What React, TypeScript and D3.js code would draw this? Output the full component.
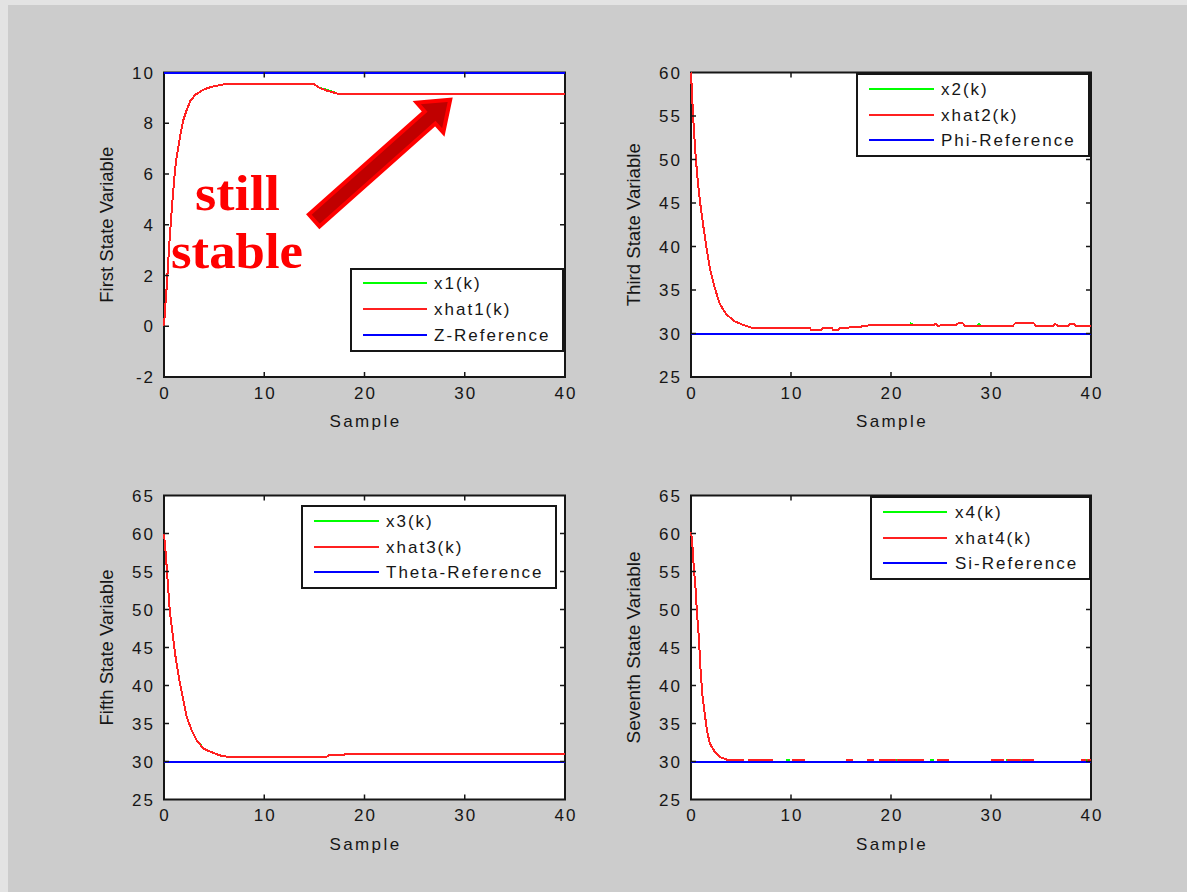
import React from 'react';
import * as d3 from 'd3';

type Pt = [number, number];

const xTicks = [0, 10, 20, 30, 40];
const yTicks1 = [-2, 0, 2, 4, 6, 8, 10];
const yTicks2 = [25, 30, 35, 40, 45, 50, 55, 60];
const yTicks3 = [25, 30, 35, 40, 45, 50, 55, 60, 65];
const yTicks4 = [25, 30, 35, 40, 45, 50, 55, 60, 65];

const xhat1: Pt[] = [[0,0],[0.1,0.63],[0.27,1.55],[0.43,2.6],[0.6,3.66],[0.77,4.58],[0.93,5.37],[1.1,6.16],[1.27,6.68],[1.6,7.47],[1.93,8.13],[2.27,8.53],[2.6,8.86],[3.1,9.12],[3.93,9.32],[4.6,9.42],[5.5,9.5],[6.27,9.55],[14.9,9.55],[15.6,9.38],[16.27,9.28],[17.3,9.17],[40,9.17]];
const x1: Pt[] = [[0,0],[0.1,0.63],[0.27,1.55],[0.43,2.6],[0.6,3.66],[0.77,4.58],[0.93,5.37],[1.1,6.16],[1.27,6.68],[1.6,7.47],[1.93,8.13],[2.27,8.53],[2.6,8.86],[3.1,9.12],[3.93,9.32],[4.6,9.42],[5.5,9.5],[6.27,9.55],[14.9,9.55],[15.6,9.38],[16.2,9.32],[17.3,9.17],[40,9.17]];
const ref1: Pt[] = [[0,10],[40,10]];

const xhat2: Pt[] = [[0,60],[0.13,56.8],[0.27,53.8],[0.47,50.3],[0.7,47.2],[0.93,44.9],[1.2,42.6],[1.54,39.9],[1.87,37.6],[2.37,35.3],[2.87,33.4],[3.54,32.2],[4.37,31.4],[5.2,31.0],[6.2,30.6],[11.9,30.6],[12.0,30.4],[13.0,30.4],[13.2,30.6],[14.1,30.6],[14.2,30.4],[14.7,30.4],[14.9,30.6],[16.4,30.75],[17.6,30.85],[17.8,31.0],[24.3,31.0],[24.5,31.1],[24.7,30.9],[25.6,31.0],[26.5,31.0],[26.7,31.15],[27.2,31.15],[27.4,30.9],[32.2,30.9],[32.4,31.15],[34.3,31.15],[34.5,30.9],[36.2,30.9],[36.4,31.1],[36.7,30.9],[37.7,30.9],[37.9,31.1],[38.3,31.1],[38.5,30.9],[40,30.9]];
const x2: Pt[] = [[0,60],[0.13,56.8],[0.27,53.8],[0.47,50.3],[0.7,47.2],[0.93,44.9],[1.2,42.6],[1.54,39.9],[1.87,37.6],[2.37,35.3],[2.87,33.4],[3.54,32.2],[4.37,31.4],[5.2,31.0],[6.2,30.6],[11.9,30.6],[12.0,30.4],[13.0,30.4],[13.2,30.6],[14.1,30.6],[14.2,30.4],[14.7,30.4],[14.9,30.6],[16.4,30.75],[17.6,30.85],[17.8,31.0],[21.9,31.0],[22.0,31.15],[22.2,31.0],[24.3,31.0],[24.5,31.1],[24.7,30.9],[25.6,31.0],[26.5,31.0],[26.7,31.15],[27.2,31.15],[27.4,30.9],[28.7,30.9],[28.8,31.1],[29.0,30.9],[32.2,30.9],[32.4,31.15],[34.3,31.15],[34.5,30.9],[36.2,30.9],[36.4,31.1],[36.7,30.9],[37.7,30.9],[37.9,31.1],[38.3,31.1],[38.5,30.9],[40,30.9]];
const ref2: Pt[] = [[0,30],[40,30]];

const xhat3: Pt[] = [[0,60],[0.2,56.9],[0.43,52.5],[0.6,49.5],[0.93,46],[1.2,43.3],[1.53,40.7],[1.93,38.1],[2.26,35.9],[2.76,34.1],[3.26,32.8],[3.92,31.7],[4.59,31.3],[5.58,30.8],[6.42,30.6],[16.2,30.6],[16.4,30.8],[17.9,30.8],[18.1,31.0],[40,31.0]];
const x3: Pt[] = [[0,60],[0.2,56.9],[0.43,52.5],[0.6,49.5],[0.93,46],[1.2,43.3],[1.53,40.7],[1.93,38.1],[2.26,35.9],[2.76,34.1],[3.26,32.8],[3.92,31.75],[4.59,31.3],[5.58,30.8],[6.42,30.6],[16.2,30.6],[16.4,30.8],[17.9,30.8],[18.1,31.0],[40,31.0]];
const ref3: Pt[] = [[0,30],[40,30]];

const xhat4: Pt[] = [[0,60.2],[0.13,58.7],[0.27,55.8],[0.47,52.5],[0.6,49.5],[0.8,46],[0.93,42.5],[1.13,38.9],[1.37,36.3],[1.6,34.1],[1.87,32.4],[2.37,31.3],[2.87,30.6],[3.54,30.26],[3.83,30.2],[5.17,30.2],[5.17,30],[5.83,30],[5.83,30.2],[8.07,30.2],[8.07,30],[10.17,30],[10.17,30.2],[11.33,30.2],[11.33,30],[15.57,30],[15.57,30.2],[16.07,30.2],[16.07,30],[17.73,30],[17.73,30.2],[18.17,30.2],[18.17,30],[18.9,30],[18.9,30.2],[20.4,30.2],[20.4,30],[20.73,30],[20.73,30.2],[21.57,30.2],[21.57,30],[21.73,30],[21.73,30.2],[23.17,30.2],[23.17,30],[24.73,30],[24.73,30.2],[25.73,30.2],[25.73,30],[30.07,30],[30.07,30.2],[31.23,30.2],[31.23,30],[31.73,30],[31.73,30.2],[32.9,30.2],[32.9,30],[33.23,30],[33.23,30.2],[34.17,30.2],[34.17,30],[39.07,30],[39.07,30.2],[39.4,30.2],[39.4,30],[39.73,30],[39.73,30.2],[40,30.2]];
const x4: Pt[] = [[0,60.2],[0.13,58.7],[0.27,55.8],[0.47,52.5],[0.6,49.5],[0.8,46],[0.93,42.5],[1.13,38.9],[1.37,36.3],[1.6,34.1],[1.87,32.4],[2.37,31.3],[2.87,30.6],[3.54,30.26],[4.2,30],[9.6,30],[9.6,30.2],[9.8,30.2],[9.8,30],[20.55,30],[20.55,30.2],[20.73,30.2],[20.73,30],[24.0,30],[24.0,30.2],[24.2,30.2],[24.2,30],[31.55,30],[31.55,30.2],[31.73,30.2],[31.73,30],[33.05,30],[33.05,30.2],[33.23,30.2],[33.23,30],[39.55,30],[39.55,30.2],[39.73,30.2],[39.73,30],[40,30]];
const ref4: Pt[] = [[0,30],[40,30]];

const legend1 = ['x1(k)', 'xhat1(k)', 'Z-Reference'];
const legend2 = ['x2(k)', 'xhat2(k)', 'Phi-Reference'];
const legend3 = ['x3(k)', 'xhat3(k)', 'Theta-Reference'];
const legend4 = ['x4(k)', 'xhat4(k)', 'Si-Reference'];

const yLabels = ['First State Variable', 'Third State Variable', 'Fifth State Variable', 'Seventh State Variable'];
const xLabel = 'Sample';

// annotation (data coordinates of panel 1)
const annotationText = ['still', 'stable'];
const arrowTail: Pt = [14.98, 4.17];
const arrowTip: Pt = [28.55, 8.93];

const W = 1187, H = 892;
const FONT = '"Liberation Sans", Arial, Helvetica, sans-serif';
const INK = '#161616';
const GREEN = '#00ff00', RED = '#ff2020', BLUE = '#0000ff';

type Panel = {
  left: number; top: number; right: number; bottom: number;
  yDomain: [number, number]; yTicks: number[]; yLabel: string; yLabelLen: number;
  truth: Pt[]; est: Pt[]; ref: Pt[]; labels: string[];
  lg: { x: number; y: number; w: number; h: number; l1: number; l2: number; tx: number; rows: number[] };
};

const panels: Panel[] = [
  { left: 164, top: 72.5, right: 565, bottom: 377, yDomain: [-2, 10], yTicks: yTicks1, yLabel: yLabels[0], yLabelLen: 156,
    truth: x1, est: xhat1, ref: ref1, labels: legend1,
    lg: { x: 351, y: 269, w: 212, h: 82, l1: 363, l2: 427, tx: 434, rows: [283, 309, 335] } },
  { left: 691, top: 72.5, right: 1091, bottom: 377, yDomain: [25, 60], yTicks: yTicks2, yLabel: yLabels[1], yLabelLen: 163,
    truth: x2, est: xhat2, ref: ref2, labels: legend2,
    lg: { x: 857, y: 74, w: 232, h: 82, l1: 869, l2: 934, tx: 941, rows: [89, 115, 140] } },
  { left: 164, top: 495.5, right: 565, bottom: 799.5, yDomain: [25, 65], yTicks: yTicks3, yLabel: yLabels[2], yLabelLen: 156,
    truth: x3, est: xhat3, ref: ref3, labels: legend3,
    lg: { x: 302, y: 506, w: 254, h: 82, l1: 314, l2: 379, tx: 386, rows: [521, 547, 572] } },
  { left: 691, top: 495.5, right: 1091, bottom: 799.5, yDomain: [25, 65], yTicks: yTicks4, yLabel: yLabels[3], yLabelLen: 192,
    truth: x4, est: xhat4, ref: ref4, labels: legend4,
    lg: { x: 871, y: 497, w: 219, h: 82, l1: 883, l2: 947, tx: 955, rows: [512, 538, 563] } },
];

function Subplot({ p, children }: { p: Panel; children?: (x: d3.ScaleLinear<number, number>, y: d3.ScaleLinear<number, number>) => React.ReactNode }) {
  const x = d3.scaleLinear().domain([0, 40]).range([p.left, p.right]);
  const y = d3.scaleLinear().domain(p.yDomain).range([p.bottom, p.top]);
  const line = d3.line<Pt>().x(d => x(d[0])).y(d => y(d[1]));
  const tl = 5;
  const colors = [GREEN, RED, BLUE];
  return (
    <g>
      <rect x={p.left} y={p.top} width={p.right - p.left} height={p.bottom - p.top} fill="#ffffff" stroke={INK} strokeWidth={2} />
      <g shapeRendering="crispEdges">
        <path d={line(p.truth) || ''} fill="none" stroke={GREEN} strokeWidth={2} />
        <path d={line(p.est) || ''} fill="none" stroke={RED} strokeWidth={2} />
        <path d={line(p.ref) || ''} fill="none" stroke={BLUE} strokeWidth={2} />
      </g>
      {xTicks.map(t => (
        <g key={'x' + t}>
          {t > 0 && t < 40 && <line x1={x(t)} x2={x(t)} y1={p.bottom} y2={p.bottom - tl} stroke={INK} strokeWidth={1.5} />}
          {t > 0 && t < 40 && <line x1={x(t)} x2={x(t)} y1={p.top} y2={p.top + tl} stroke={INK} strokeWidth={1.5} />}
          <text x={x(t) + 1} y={p.bottom + 21.5} textAnchor="middle" fontSize={17} letterSpacing={2} fontFamily={FONT} fill={INK}>{t}</text>
        </g>
      ))}
      {p.yTicks.map(t => (
        <g key={'y' + t}>
          {t > p.yDomain[0] && t < p.yDomain[1] && <line x1={p.left} x2={p.left + tl} y1={y(t)} y2={y(t)} stroke={INK} strokeWidth={1.5} />}
          {t > p.yDomain[0] && t < p.yDomain[1] && <line x1={p.right} x2={p.right - tl} y1={y(t)} y2={y(t)} stroke={INK} strokeWidth={1.5} />}
          <text x={p.left - 9} y={y(t) + 6} textAnchor="end" fontSize={17} letterSpacing={2} fontFamily={FONT} fill={INK}>{t}</text>
        </g>
      ))}
      <text x={(p.left + p.right) / 2 + 1} y={p.bottom + 50} textAnchor="middle" fontSize={17} letterSpacing={2.4} fontFamily={FONT} fill={INK}>{xLabel}</text>
      <text transform={`translate(${p.left - 57},${(p.top + p.bottom) / 2}) rotate(-90)`} textAnchor="middle" dominantBaseline="central"
        fontSize={18} fontFamily={FONT} fill={INK} textLength={p.yLabelLen} lengthAdjust="spacingAndGlyphs">{p.yLabel}</text>
      {children && children(x, y)}
      <rect x={p.lg.x} y={p.lg.y} width={p.lg.w} height={p.lg.h} fill="#ffffff" stroke={INK} strokeWidth={2} />
      {p.labels.map((lab, i) => (
        <g key={lab}>
          <line x1={p.lg.l1} x2={p.lg.l2} y1={p.lg.rows[i]} y2={p.lg.rows[i]} stroke={colors[i]} strokeWidth={2} shapeRendering="crispEdges" />
          <text x={p.lg.tx} y={p.lg.rows[i] + 6} fontSize={17} letterSpacing={2} fontFamily={FONT} fill={INK}>{lab}</text>
        </g>
      ))}
    </g>
  );
}

function Arrow({ x, y }: { x: d3.ScaleLinear<number, number>; y: d3.ScaleLinear<number, number> }) {
  const tx = x(arrowTail[0]), ty = y(arrowTail[1]);
  const hx = x(arrowTip[0]), hy = y(arrowTip[1]);
  const len = Math.hypot(hx - tx, hy - ty);
  const ang = Math.atan2(hy - ty, hx - tx) * 180 / Math.PI;
  const sw = 8, hw = 20, hl = 27;
  const pts = [[0, -sw], [len - hl, -sw], [len - hl, -hw], [len, 0], [len - hl, hw], [len - hl, sw], [0, sw]];
  return (
    <polygon transform={`translate(${tx},${ty}) rotate(${ang})`} points={pts.map(q => q.join(',')).join(' ')}
      fill="#c00000" stroke="#ff0000" strokeWidth={4} strokeLinejoin="miter" />
  );
}

export default function App() {
  return (
    <svg width={W} height={H} style={{ position: 'absolute', left: 0, top: 0, display: 'block' }}>
      <rect x={0} y={0} width={W} height={H} fill="#cccccc" />
      <rect x={0} y={0} width={8} height={H} fill="#e3e3e3" />
      <rect x={0} y={0} width={W} height={5} fill="#e3e3e3" />
      {panels.map((p, i) => (
        <Subplot key={i} p={p}>
          {i === 0 ? (x, y) => (
            <g>
              <Arrow x={x} y={y} />
              <text x={237.5} y={210} textAnchor="middle" fontSize={50} fontWeight="bold" fontFamily='"Liberation Serif", "DejaVu Serif", serif'
                fill="#ff0000" textLength={85} lengthAdjust="spacingAndGlyphs">{annotationText[0]}</text>
              <text x={237} y={268} textAnchor="middle" fontSize={50} fontWeight="bold" fontFamily='"Liberation Serif", "DejaVu Serif", serif'
                fill="#ff0000" textLength={132} lengthAdjust="spacingAndGlyphs">{annotationText[1]}</text>
            </g>
          ) : undefined}
        </Subplot>
      ))}
    </svg>
  );
}
